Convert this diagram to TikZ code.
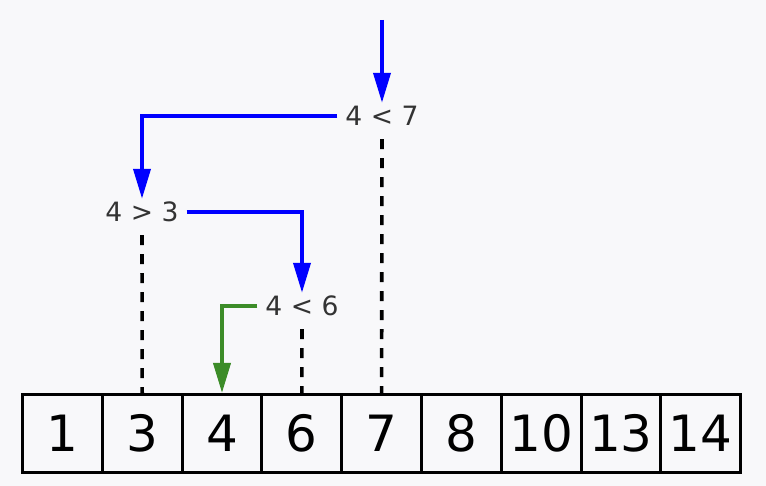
\documentclass[tikz,border=0pt]{standalone}
\usepackage{fontspec}
\setmainfont{DejaVu Sans}
\usetikzlibrary{arrows.meta,calc}
\definecolor{bg}{RGB}{248,248,250}
\definecolor{myblue}{RGB}{0,0,255}
\definecolor{mygreen}{RGB}{60,140,40}
\definecolor{lbl}{RGB}{51,51,51}
\begin{document}
\begin{tikzpicture}[x=1pt,y=-1pt,
  cell/.style={draw=black, line width=3pt, minimum width=79.8pt, minimum height=77.5pt,
    inner sep=0pt, font=\fontsize{50}{50}\selectfont, anchor=center},
  cmp/.style={text=lbl, font=\fontsize{26.6}{30}\selectfont, inner xsep=8pt, inner ysep=0pt,
    text height=23pt, text depth=13pt, anchor=base},
  bluearrow/.style={draw=myblue, line width=3.8pt, -{Triangle[length=30pt,width=17pt]}},
  greenarrow/.style={draw=mygreen, line width=3.8pt, -{Triangle[length=30pt,width=17pt]}},
  guide/.style={draw=black, line width=3.6pt, dash pattern=on 10pt off 9pt}
]
\fill[bg] (0,0) rectangle (766,486);
\useasboundingbox (0,0) rectangle (766,486);

\foreach \v [count=\i] in {1,3,4,6,7,8,10,13,14}
  \node[cell] (c\i) at ({22.5+79.8*(\i-0.5)},433.25) {\v};

\node[cmp] (n7) at (382,126) {4 < 7};
\node[cmp] (n3) at (142,222) {4 > 3};
\node[cmp] (n6) at (302,316) {4 < 6};

\coordinate (start) at (382,20);

\draw[guide] (n7.south) -- (c5.north);
\draw[guide] (n3.south) -- (c2.north);
\draw[guide] (n6.south) -- (c4.north);

\draw[bluearrow] (start) -- (n7.north);
\draw[bluearrow] ([yshift=5pt]n7.west) -| (n3.north);
\draw[bluearrow] ([yshift=5pt]n3.east) -| (n6.north);
\draw[greenarrow] ([yshift=5pt]n6.west) -| (c3.north);
\end{tikzpicture}
\end{document}
